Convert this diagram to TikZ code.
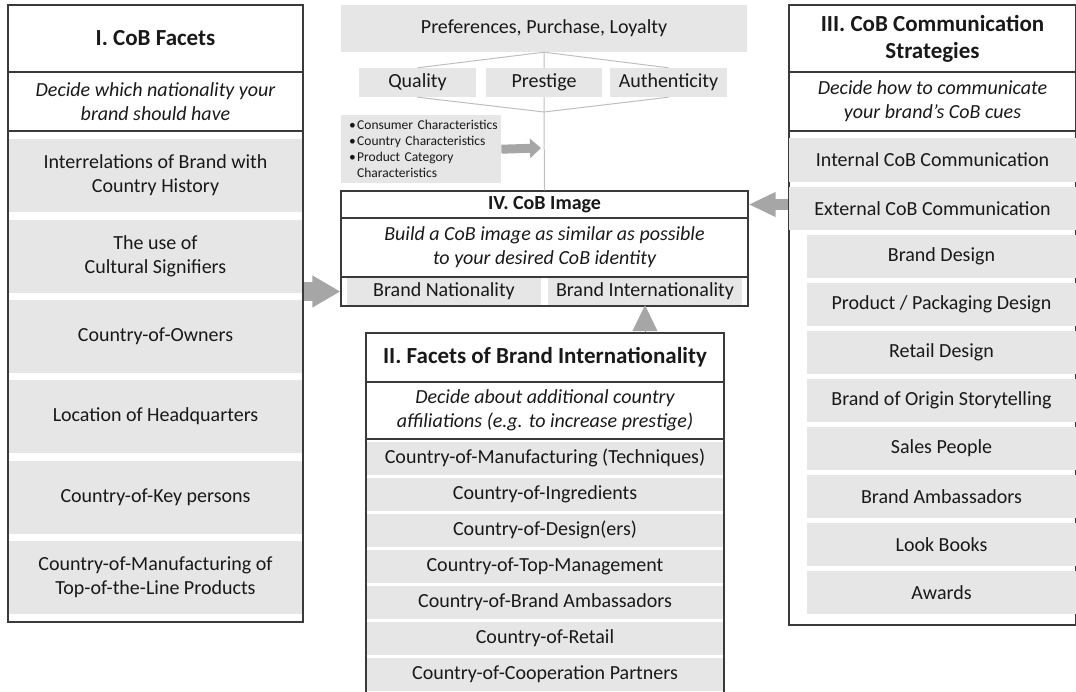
\documentclass[tikz,border=0pt]{standalone}
\usepackage{fontspec}
\setmainfont{Carlito}
\usetikzlibrary{arrows.meta}
\definecolor{cobfill}{HTML}{E6E6E6}
\definecolor{cobarrow}{HTML}{A6A6A6}
\definecolor{cobline}{HTML}{BFBFBF}
\definecolor{cobframe}{HTML}{3A3A3A}
\newcommand{\cobbullet}{\hspace*{6pt}\makebox[8pt][l]{•}}
\tikzset{boxframe/.style={draw=cobframe, line width=1.2pt, inner sep=0pt},
  titlerow/.style={boxframe, align=center, font=\fontsize{23}{27}\selectfont\bfseries},
  subrow/.style={boxframe, align=center, font=\fontsize{20}{24}\selectfont\itshape},
  facet/.style={fill=cobfill, inner sep=0pt, align=center, font=\fontsize{20}{24}\selectfont},
  bigarrow/.style={draw=cobarrow, line width=#1},
  thinline/.style={draw=cobline, line width=1pt}}

\begin{document}
\begin{tikzpicture}[x=1pt, y=-1pt]
\tikzstyle{every node}=[text=black!90]
\useasboundingbox (0,0) rectangle (1076,691);
% I. CoB Facets
\node[boxframe, minimum width=295pt, minimum height=617pt] (facets) at (155.5,313.5) {};
\node[titlerow, minimum width=295pt, minimum height=67pt] (facetstitle) at (155.5,38.5) {I. CoB Facets};
\node[subrow, minimum width=295pt, minimum height=59pt] (facetssub) at (155.5,101.5) {Decide which nationality your\\brand should have};
\foreach \y/\txt [count=\i] in {175.5/{Interrelations of Brand with\\Country History},
    256.5/{The use of\\Cultural Signifiers}, 336.5/{Country-of-Owners},
    416/{Location of Headquarters}, 497/{Country-of-Key persons},
    577/{Country-of-Manufacturing of\\Top-of-the-Line Products}}
  \node[facet, minimum width=293pt, minimum height=73pt] (nat\i) at (155.5,\y) {\txt};
% III. CoB Communication Strategies
\node[boxframe, minimum width=287pt, minimum height=620pt] (comm) at (932.5,315) {};
\node[titlerow, minimum width=287pt, minimum height=67pt] (commtitle) at (932.5,38.5) {III. CoB Communication\\Strategies};
\node[subrow, minimum width=287pt, minimum height=59pt] (commsub) at (932.5,101.5) {Decide how to communicate\\your brand’s CoB cues};
\node[facet, minimum width=287pt, minimum height=44pt] (internal) at (932.5,160) {Internal CoB Communication};
\node[facet, minimum width=287pt, minimum height=43pt] (external) at (932.5,208.5) {External CoB Communication};
\foreach \txt [count=\i from 0] in {Brand Design, Product / Packaging Design, Retail Design,
    Brand of Origin Storytelling, Sales People, Brand Ambassadors, Look Books, Awards}
  \node[facet, minimum width=269pt, minimum height=43pt] (channel\i) at (941.5,256.5+48*\i) {\txt};
% outcomes
\node[facet, minimum width=406pt, minimum height=47pt] (pref) at (544,28.5) {Preferences, Purchase, Loyalty};
\node[facet, minimum width=117pt, minimum height=29pt] (quality) at (417.5,82.5) {Quality};
\node[facet, minimum width=116pt, minimum height=29pt] (prestige) at (544,82.5) {Prestige};
\node[facet, minimum width=117pt, minimum height=29pt] (authenticity) at (668.5,82.5) {Authenticity};
\coordinate (join) at (544,112);
\draw[thinline] (quality.north) -- (pref.south) -- (authenticity.north) (pref.south) -- (prestige.north);
\draw[thinline] (quality.south) -- (join) -- (authenticity.south) (prestige.south) -- (join);
\node[facet, anchor=north west, align=left, text width=156pt, inner xsep=2pt, minimum height=68pt,
  font=\fontsize{13.5}{16}\selectfont] (factors) at (341,115)
  {\cobbullet Consumer Characteristics\\\cobbullet Country Characteristics\\\cobbullet Product Category\\\hspace*{14pt}Characteristics};
\coordinate (factorsend) at (541,148);
\draw[bigarrow=9pt, -{Triangle[length=11pt,width=19pt]}] (factors.east) -- (factorsend);
% IV. CoB Image
\node[boxframe, minimum width=407pt, minimum height=115pt] (image) at (544.5,248.5) {};
\node[titlerow, minimum width=407pt, minimum height=27pt, font=\fontsize{20}{24}\selectfont\bfseries] (imagetitle) at (544.5,204.5) {IV. CoB Image};
\node[subrow, minimum width=407pt, minimum height=59pt] (imagesub) at (544.5,247.5) {Build a CoB image as similar as possible\\to your desired CoB identity};
\node[facet, minimum width=194pt, minimum height=27pt] (natl) at (444,291.5) {Brand Nationality};
\node[facet, minimum width=194pt, minimum height=27pt] (intl) at (645,291.5) {Brand Internationality};
\draw[thinline] (join) -- (imagetitle.north);
% II. Facets of Brand Internationality
\node[boxframe, minimum width=358pt, minimum height=372pt] (intfacets) at (545,519) {};
\node[titlerow, minimum width=358pt, minimum height=49pt] (intfacetstitle) at (545,357.5) {II. Facets of Brand Internationality};
\node[subrow, minimum width=358pt, minimum height=57pt] (intfacetssub) at (545,410.5) {Decide about additional country\\affiliations (e.g. to increase prestige)};
\foreach \txt [count=\i from 0] in {Country-of-Manufacturing (Techniques), Country-of-Ingredients,
    Country-of-Design(ers), Country-of-Top-Management, Country-of-Brand Ambassadors,
    Country-of-Retail, Country-of-Cooperation Partners}
  \node[facet, minimum width=356pt, minimum height=33pt] (intl\i) at (545,458+36*\i) {\txt};
% arrows into IV
\draw[bigarrow=19pt, -{Triangle[length=28pt,width=30pt]}] (facets.east |- natl) -- (image.west |- natl);
\draw[bigarrow=11pt, -{Triangle[length=27pt,width=23pt]}] (comm.west |- imagetitle) -- (imagetitle.east);
\draw[bigarrow=1pt, -{Triangle[length=26pt,width=25pt]}] (intfacets.north -| intl) -- (intl.south);
\end{tikzpicture}
\end{document}
